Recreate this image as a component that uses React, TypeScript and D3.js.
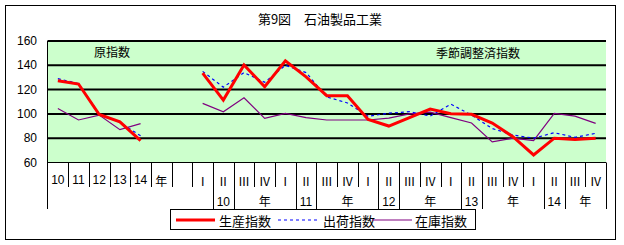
import * as d3 from 'd3';

const row1Labels = [
  '10', '11', '12', '13', '14', '年', '',
  'Ⅰ', 'Ⅱ', 'Ⅲ', 'Ⅳ',
  'Ⅰ', 'Ⅱ', 'Ⅲ', 'Ⅳ',
  'Ⅰ', 'Ⅱ', 'Ⅲ', 'Ⅳ',
  'Ⅰ', 'Ⅱ', 'Ⅲ', 'Ⅳ',
  'Ⅰ', 'Ⅱ', 'Ⅲ', 'Ⅳ',
];
// second label row: [text, number of categories it covers]
const row2Groups: [string, number][] = [
  ['', 8], ['10', 1], ['年', 3], ['11', 1], ['年', 3], ['12', 1], ['年', 3],
  ['13', 1], ['年', 3], ['14', 1], ['年', 2],
];
const yTicks = [60, 80, 100, 120, 140, 160];

// 原指数 (annual, 10-14年)
const prodAnnual = [127.3, 124.6, 99.5, 93.5, 78];
const shipAnnual = [129, 125, 100, 93, 82];
const invAnnual = [104.5, 95, 99, 87, 92];

// 季節調整済指数 (10年Ⅰ - 14年Ⅳ)
const prodQuarter = [133.5, 111.4, 140.2, 122.3, 143.7, 130.5, 115, 115, 95.5, 90, 97, 104, 100.2, 99.7, 92.5, 81.2, 66.2, 80, 79, 80];
const shipQuarter = [135, 122, 134, 126, 140, 134, 114, 109, 98, 100.6, 101.8, 98.2, 108, 99, 88, 82.6, 80, 84.5, 80.7, 84];
const invQuarter = [108.7, 101.7, 113.3, 96.3, 100.4, 97, 95, 95, 95, 96.5, 100, 101.5, 97, 92.5, 77, 80, 78, 100.5, 98.2, 92.2];
const quarterStart = 7;

const series = [
  { name: '生産指数', annual: prodAnnual, quarter: prodQuarter, color: '#ff0000', width: 3, dash: undefined },
  { name: '出荷指数', annual: shipAnnual, quarter: shipQuarter, color: '#0000ff', width: 1.2, dash: '3,3' },
  { name: '在庫指数', annual: invAnnual, quarter: invQuarter, color: '#800080', width: 1.2, dash: undefined },
];

const FONT = "'Liberation Sans', 'Noto Sans CJK JP', sans-serif";
const JP = "'Noto Sans CJK JP', sans-serif";

export default function App() {
  const W = 624;
  const H = 245;
  const left = 47.5;
  const right = 606;
  const top = 41;
  const bottom = 162.5;

  const x = d3.scaleBand<number>().domain(d3.range(row1Labels.length)).range([left, right]).padding(0);
  const y = d3.scaleLinear().domain([60, 160]).range([bottom, top]);
  const bw = x.bandwidth();
  const cx = (i: number) => (x(i) ?? 0) + bw / 2;
  const edge = (b: number) => left + b * bw;

  const line = d3
    .line<[number, number]>()
    .x((d) => cx(d[0]))
    .y((d) => y(d[1]));

  // long dividers at group boundaries of row 2
  const longB = new Set<number>([0]);
  let g0 = 0;
  const groups = row2Groups.map(([label, n]) => {
    const s = g0;
    g0 += n;
    longB.add(g0);
    return { label, s, e: g0 };
  });

  const row1Y = 180;
  const row2Y = 202;
  const shortEnd = 187;
  const longEnd = 209;

  return (
    <div style={{ position: 'fixed', left: 0, top: 0 }}>
      <svg width={W} height={H} style={{ display: 'block', background: '#fff' }}>
        <rect x={5.5} y={5.5} width={610} height={234} fill="#fff" stroke="#000" strokeWidth={1} />
        <text x={320} y={18} textAnchor="middle" dominantBaseline="central" fontSize={13} fontFamily={JP} fill="#000">
          第9図　石油製品工業
        </text>

        <rect x={left} y={top} width={right - left} height={bottom - top} fill="#ccffcc" />
        {yTicks.filter((t) => t > 60).map((t) => (
          <line key={t} x1={left} x2={right} y1={y(t)} y2={y(t)} stroke="#000" strokeWidth={2} />
        ))}
        {yTicks.map((t) => (
          <text key={t} x={37} y={y(t)} textAnchor="end" dominantBaseline="central" fontSize={12} fontFamily={FONT} fill="#000">
            {t}
          </text>
        ))}

        <text x={112} y={51} textAnchor="middle" dominantBaseline="central" fontSize={12} fontFamily={JP} fill="#000">原指数</text>
        <text x={478} y={52} textAnchor="middle" dominantBaseline="central" fontSize={12} fontFamily={JP} fill="#000">季節調整済指数</text>

        {series.slice().reverse().map((s) => (
          <g key={s.name}>
            <path
              d={line(s.annual.map((v, i) => [i, v] as [number, number])) ?? undefined}
              fill="none"
              stroke={s.color}
              strokeWidth={s.width}
              strokeDasharray={s.dash}
            />
            <path
              d={line(s.quarter.map((v, i) => [i + quarterStart, v] as [number, number])) ?? undefined}
              fill="none"
              stroke={s.color}
              strokeWidth={s.width}
              strokeDasharray={s.dash}
            />
          </g>
        ))}

        {/* axes */}
        <line x1={left} x2={left} y1={top} y2={longEnd} stroke="#000" strokeWidth={1} />
        <line x1={left} x2={right} y1={bottom} y2={bottom} stroke="#000" strokeWidth={1} />
        {d3.range(1, row1Labels.length + 1).map((b) => (
          <line
            key={b}
            x1={Math.round(edge(b)) + 0.5}
            x2={Math.round(edge(b)) + 0.5}
            y1={bottom}
            y2={longB.has(b) ? longEnd : shortEnd}
            stroke="#000"
            strokeWidth={1}
          />
        ))}
        {row1Labels.map((l, i) => (
          <text
            key={i}
            x={cx(i)}
            y={row1Y}
            textAnchor="middle"
            dominantBaseline="central"
            fontSize={12}
            fontFamily={/^\d+$/.test(l) ? FONT : JP}
            fill="#000"
          >
            {l}
          </text>
        ))}
        {groups.map((g, i) => (
          <text
            key={i}
            x={(edge(g.s) + edge(g.e)) / 2}
            y={row2Y}
            textAnchor="middle"
            dominantBaseline="central"
            fontSize={12}
            fontFamily={FONT}
            fill="#000"
          >
            {g.label}
          </text>
        ))}

        {/* legend */}
        <rect x={170.5} y={209.5} width={305} height={20} fill="#fff" stroke="#000" strokeWidth={1} />
        {[
          { lx: 176, tx: 219, len: 39 },
          { lx: 278, tx: 323, len: 40 },
          { lx: 372, tx: 415, len: 40 },
        ].map((p, i) => (
          <g key={series[i].name}>
            <line
              x1={p.lx}
              x2={p.lx + p.len}
              y1={220}
              y2={220}
              stroke={series[i].color}
              strokeWidth={series[i].width}
              strokeDasharray={series[i].dash}
            />
            <text x={p.tx} y={220} dominantBaseline="central" fontSize={13} fontFamily={JP} fill="#000">
              {series[i].name}
            </text>
          </g>
        ))}
      </svg>
    </div>
  );
}
